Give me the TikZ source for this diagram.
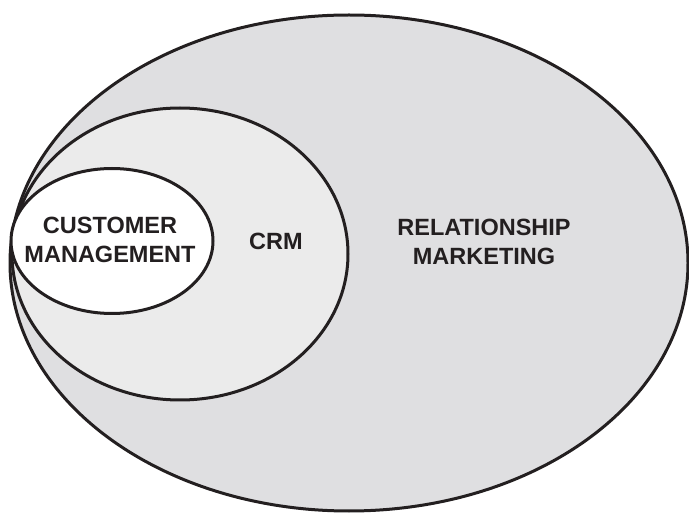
\documentclass[tikz,border=0pt]{standalone}
\usepackage{fontspec}
\setmainfont{Liberation Sans}
\usetikzlibrary{shapes.geometric}

\definecolor{rmFill}{HTML}{DFDFE1}
\definecolor{crmFill}{HTML}{EBEBEB}
\definecolor{inkDark}{HTML}{231F20}

\begin{document}
\begin{tikzpicture}[x=1pt, y=-1pt,
    setStyle/.style={ellipse, draw=inkDark, line width=3pt, inner sep=0pt},
    labelStyle/.style={text=inkDark, align=center, inner sep=0pt,
        font=\fontsize{23.5}{28.5}\selectfont\bfseries}]
    \useasboundingbox (0, 0) rectangle (689, 513);

    % nested sets, largest first
    \node[setStyle, fill=rmFill, minimum width=678pt, minimum height=496pt](rm) at (349, 263) {};
    \node[setStyle, fill=crmFill, minimum width=336pt, minimum height=292pt](crm) at (180, 254) {};
    \node[setStyle, fill=white, minimum width=202pt, minimum height=145pt](cm) at (112, 241) {};

    \node[labelStyle](cmLabel) at (110, 240) {CUSTOMER\\MANAGEMENT};
    \node[labelStyle](crmLabel) at (276, 241) {CRM};
    \node[labelStyle](rmLabel) at (484, 242) {RELATIONSHIP\\MARKETING};
\end{tikzpicture}
\end{document}
